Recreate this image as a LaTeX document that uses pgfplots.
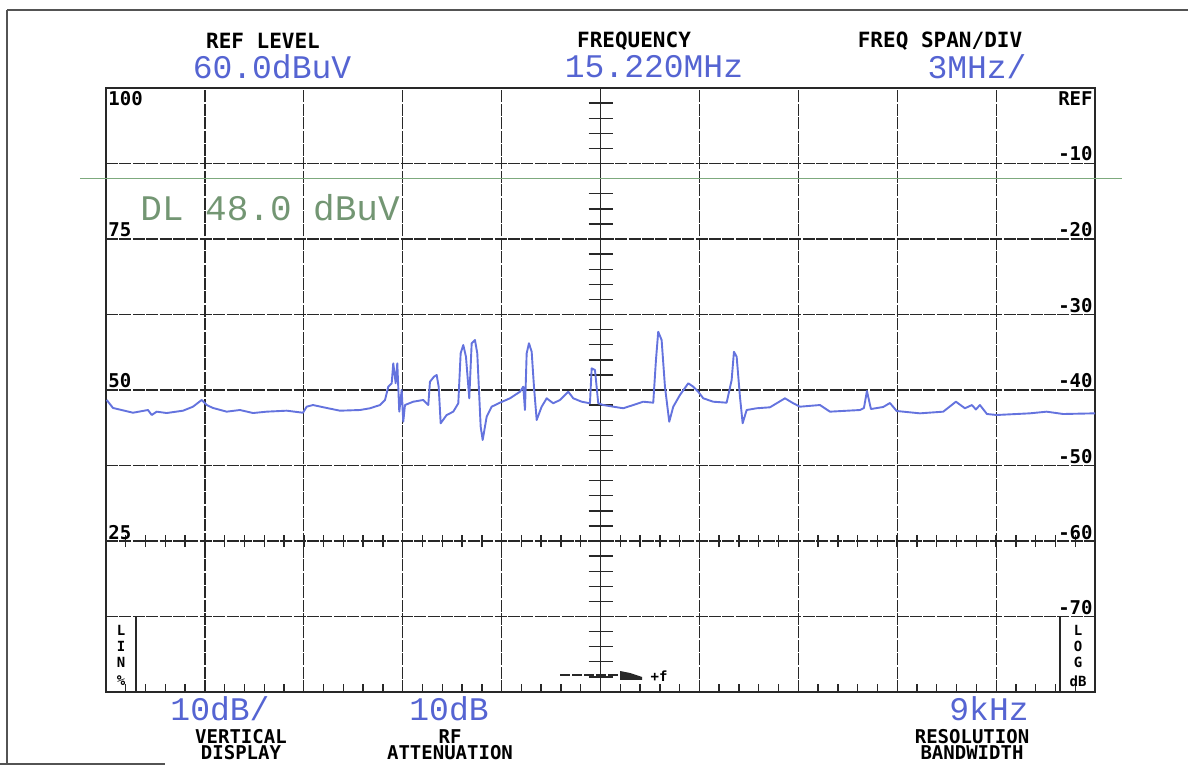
\documentclass[border=0pt]{standalone}
\usepackage{fontspec}
\setmainfont{DejaVu Sans Mono}
\newfontfamily\valfont{Liberation Mono}
\newfontfamily\labfont{DejaVu Sans Mono}
\usepackage{pgfplots}
\pgfplotsset{compat=1.18}

\definecolor{vblue}{RGB}{85,100,210}
\definecolor{tblue}{RGB}{100,115,222}
\definecolor{dlgreen}{RGB}{125,170,125}
\definecolor{dltext}{RGB}{115,150,115}
\definecolor{gridc}{RGB}{40,40,40}

\newcommand\lab{\labfont\bfseries\fontsize{10.5}{10.5}\selectfont}
\newcommand\foot{\labfont\bfseries\fontsize{9.5}{9.5}\selectfont}
\newcommand\val{\valfont\fontsize{16.5}{16.5}\selectfont\color{vblue}}
\newcommand\tk{\labfont\bfseries\fontsize{9.5}{9.5}\selectfont}
\newcommand\sm{\labfont\bfseries\fontsize{7}{7}\selectfont}

\begin{document}
\begin{tikzpicture}
\path[use as bounding box] (0,0) rectangle (594pt,382.5pt);

\begin{axis}[at={(53pt,36.5pt)}, anchor=south west, scale only axis,
  width=494.5pt, height=302pt,
  xmin=0.22, xmax=30.22, ymin=-20, ymax=60,
  xtick={0.22,3.22,6.22,9.22,12.22,15.22,18.22,21.22,24.22,27.22,30.22},
  ytick={-20,-10,0,10,20,30,40,50,60},
  xticklabels={}, yticklabels={},
  major tick length=0pt, minor tick length=4pt,
  minor x tick num=4, tick align=inside,
  xtick pos=bottom, ytick pos=left,
  minor tick style={gridc, line width=0.7pt},
  grid=major,
  major grid style={gridc, line width=0.6pt, dash pattern=on 6pt off 0.7pt},
  axis line style={gridc, line width=0.8pt},
  clip=false]

% graticule: centre line and -60 line with fifth-division ticks
\draw[gridc, line width=0.8pt] (axis cs:15.22,-20) -- (axis cs:15.22,60);
\pgfplotsinvokeforeach{-18,-16,...,58}{
  \draw[gridc, line width=0.7pt] ([xshift=-6pt]axis cs:15.22,#1) -- ([xshift=6pt]axis cs:15.22,#1);
}
\pgfplotsinvokeforeach{0.82,1.42,...,29.7}{
  \draw[gridc, line width=0.7pt] ([yshift=-3pt]axis cs:#1,0) -- ([yshift=3pt]axis cs:#1,0);
}

% display line DL 48.0 dBuV
\draw[dlgreen, line width=0.6pt] (axis cs:-0.57,48) -- (axis cs:31.04,48);

% trace (MHz, dBuV)
\addplot[tblue, line width=0.95pt, line join=round] coordinates {
(0.241,18.68) (0.432,17.62) (1.039,16.99) (1.494,17.35) (1.606,16.69)
(1.758,17.13) (2.061,16.95) (2.556,17.26) (2.859,17.79) (3.123,18.68)
(3.274,18.01) (3.466,17.62) (3.881,17.13) (4.284,17.35) (4.679,16.95)
(5.094,17.13) (5.701,17.26) (6.195,16.99) (6.307,17.79) (6.499,18.01)
(6.914,17.62) (7.317,17.26) (7.924,17.35) (8.228,17.58) (8.531,18.01)
(8.683,18.68) (8.783,20.44) (8.886,20.89) (8.934,23.54) (9.007,20.89)
(9.056,23.54) (9.116,17.13) (9.189,20.00) (9.237,15.80) (9.289,18.01)
(9.541,18.45) (9.844,18.68) (9.996,18.01) (10.047,21.10) (10.169,21.76)
(10.250,21.99) (10.311,20.44) (10.372,15.59) (10.553,16.69) (10.754,17.13)
(10.906,18.24) (10.978,24.86) (11.057,25.96) (11.139,24.41) (11.239,18.90)
(11.312,26.19) (11.412,26.62) (11.482,24.86) (11.585,15.14) (11.646,13.38)
(11.767,16.46) (11.919,17.79) (12.170,18.32) (12.474,18.90) (12.777,19.77)
(12.877,20.44) (12.929,17.35) (12.980,24.86) (13.050,26.19) (13.132,25.07)
(13.202,20.44) (13.284,16.03) (13.435,17.79) (13.587,18.90) (13.787,18.24)
(13.990,18.68) (14.242,19.77) (14.394,18.90) (14.648,18.45) (14.900,18.24)
(14.952,22.87) (15.052,22.65) (15.152,18.24) (15.303,18.01) (15.607,17.79)
(15.910,17.58) (16.213,18.01) (16.517,18.45) (16.820,18.32) (16.902,23.97)
(16.971,27.72) (17.074,26.62) (17.175,20.44) (17.305,15.80) (17.427,17.79)
(17.630,19.34) (17.882,20.89) (18.033,20.44) (18.185,19.77) (18.337,18.90)
(18.640,18.45) (19.046,18.32) (19.198,21.32) (19.268,25.07) (19.350,24.41)
(19.450,19.11) (19.532,15.59) (19.653,17.35) (19.957,17.58) (20.360,17.71)
(20.815,18.90) (21.067,18.24) (21.270,17.79) (21.877,18.01) (22.179,17.13)
(23.090,17.35) (23.211,17.62) (23.302,19.87) (23.423,17.48) (23.796,17.75)
(24.000,18.28) (24.203,17.22) (24.909,16.91) (25.616,17.13) (26.001,18.45)
(26.274,17.58) (26.487,18.01) (26.607,17.42) (26.729,18.01) (26.942,16.82)
(27.236,16.69) (28.245,16.91) (28.753,17.13) (29.256,16.82) (30.220,16.91)
};
\end{axis}

% annotations, in pixel units of the 1188x765 sheet (y downwards)
\begin{scope}[x=0.5pt, y=-0.5pt, yshift=382.5pt]
  % sheet frame
  \draw[gridc!80, line width=0.6pt] (7,10) -- (1188,10);
  \draw[gridc!80, line width=0.6pt] (7,10) -- (7,765);
  \draw[gridc!80, line width=0.6pt] (0,764) -- (165,764);

  % header
  \node[inner sep=0] at (263,41) {\lab REF LEVEL};
  \node[inner sep=0] at (272,67) {\val 60.0dBuV};
  \node[inner sep=0] at (634,41) {\lab FREQUENCY};
  \node[inner sep=0] at (654,67) {\val 15.220MHz};
  \node[inner sep=0] at (940,41) {\lab FREQ SPAN/DIV};
  \node[inner sep=0] at (977,67) {\val 3MHz/};

  % footer
  \node[inner sep=0] at (220,709) {\val 10dB/};
  \node[inner sep=0] at (241,737) {\foot VERTICAL};
  \node[inner sep=0] at (241,753) {\foot DISPLAY};
  \node[inner sep=0] at (449,709) {\val 10dB};
  \node[inner sep=0] at (450,737) {\foot RF};
  \node[inner sep=0] at (450,753) {\foot ATTENUATION};
  \node[inner sep=0] at (989,709) {\val 9kHz};
  \node[inner sep=0] at (972,737) {\foot RESOLUTION};
  \node[inner sep=0] at (972,753) {\foot BANDWIDTH};

  % display line label
  \node[inner sep=0, anchor=west] at (140,208)
    {\valfont\fontsize{18}{18}\selectfont\color{dltext}DL 48.0 dBuV};

  % left scale (LIN %)
  \node[inner sep=0, anchor=north west] at (108,91) {\tk 100};
  \node[inner sep=0, anchor=south west] at (108,237) {\tk 75};
  \node[inner sep=0, anchor=south west] at (108,388) {\tk 50};
  \node[inner sep=0, anchor=south west] at (108,540) {\tk 25};

  % right scale (LOG dB)
  \node[inner sep=0, anchor=north east] at (1093,91) {\tk REF};
  \node[inner sep=0, anchor=south east] at (1093,161) {\tk -10};
  \node[inner sep=0, anchor=south east] at (1093,237) {\tk -20};
  \node[inner sep=0, anchor=south east] at (1093,313) {\tk -30};
  \node[inner sep=0, anchor=south east] at (1093,388) {\tk -40};
  \node[inner sep=0, anchor=south east] at (1093,464) {\tk -50};
  \node[inner sep=0, anchor=south east] at (1093,540) {\tk -60};
  \node[inner sep=0, anchor=south east] at (1093,615) {\tk -70};

  % LIN% box
  \draw[gridc, line width=0.7pt] (136,617) -- (136,692);
  \node[inner sep=0] at (121,630) {\sm L};
  \node[inner sep=0] at (121,646) {\sm I};
  \node[inner sep=0] at (121,662) {\sm N};
  \node[inner sep=0] at (121,681) {\sm \%};

  % LOG dB box
  \draw[gridc, line width=0.7pt] (1060,617) -- (1060,692);
  \node[inner sep=0] at (1078,630) {\sm L};
  \node[inner sep=0] at (1078,646) {\sm O};
  \node[inner sep=0] at (1078,662) {\sm G};
  \node[inner sep=0] at (1078,681) {\sm dB};

  % +f marker
  \draw[gridc, line width=0.7pt, dash pattern=on 5pt off 1pt] (560,675) -- (620,675);
  \fill[gridc] (620,671) -- (630,673) -- (642,677) -- (642,680) -- (620,680) -- cycle;
  \node[inner sep=0] at (659,676) {\sm +f};
\end{scope}
\end{tikzpicture}
\end{document}
